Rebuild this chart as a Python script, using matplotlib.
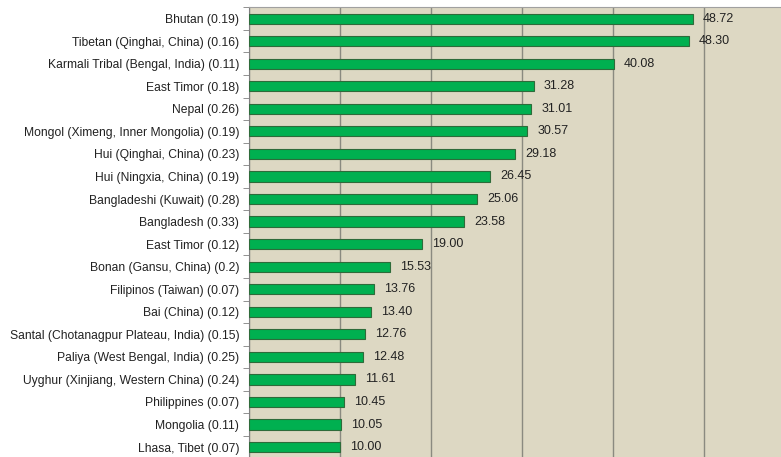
import matplotlib.pyplot as plt
import numpy as np

labels = [
    "Bhutan (0.19)", "Tibetan (Qinghai, China) (0.16)", "Karmali Tribal (Bengal, India) (0.11)",
    "East Timor (0.18)", "Nepal (0.26)", "Mongol (Ximeng, Inner Mongolia) (0.19)",
    "Hui (Qinghai, China) (0.23)", "Hui (Ningxia, China) (0.19)", "Bangladeshi (Kuwait) (0.28)",
    "Bangladesh (0.33)", "East Timor (0.12)", "Bonan (Gansu, China) (0.2)",
    "Filipinos (Taiwan) (0.07)", "Bai (China) (0.12)", "Santal (Chotanagpur Plateau, India) (0.15)",
    "Paliya (West Bengal, India) (0.25)", "Uyghur (Xinjiang, Western China) (0.24)",
    "Philippines (0.07)", "Mongolia (0.11)", "Lhasa, Tibet (0.07)",
]
values = [48.72, 48.30, 40.08, 31.28, 31.01, 30.57, 29.18, 26.45, 25.06, 23.58,
          19.00, 15.53, 13.76, 13.40, 12.76, 12.48, 11.61, 10.45, 10.05, 10.00]

plt.rcParams['font.family'] = ['Liberation Sans', 'DejaVu Sans']

fig = plt.figure(figsize=(7.81, 4.57), dpi=100)
ax = fig.add_axes([249 / 781, -0.003, 1 - 249 / 781, 0.987])
ax.set_facecolor('#ddd8c3')

y = np.arange(len(values))[::-1]
ax.barh(y, values, height=0.45, color='#00b050', edgecolor='#2e6b3a', linewidth=0.8, zorder=3)
for yi, v in zip(y, values):
    ax.text(v + 1.1, yi, f"{v:.2f}", va='center', ha='left', fontsize=9, color='#222222', zorder=4)

ax.set_xlim(0, 58.4)
ax.set_ylim(-0.5, len(values) - 0.5)
ax.set_xticks(np.arange(0, 60, 10))
ax.tick_params(axis='x', length=0, labelbottom=False)
ax.xaxis.grid(True, color='#8a8a80', linewidth=1, zorder=1)

ax.set_yticks(y)
ax.set_yticklabels(labels, fontsize=8.7, color='#222222')
ax.set_yticks(np.arange(-0.5, len(values), 1), minor=True)
ax.tick_params(axis='y', which='major', length=0, pad=7)
ax.tick_params(axis='y', which='minor', length=4, color='#808080')

for s in ['right', 'bottom']:
    ax.spines[s].set_visible(False)
ax.spines['left'].set_color('#808080')
ax.spines['top'].set_color('#a0a0a0')

fig.savefig('out.png', dpi=100)
